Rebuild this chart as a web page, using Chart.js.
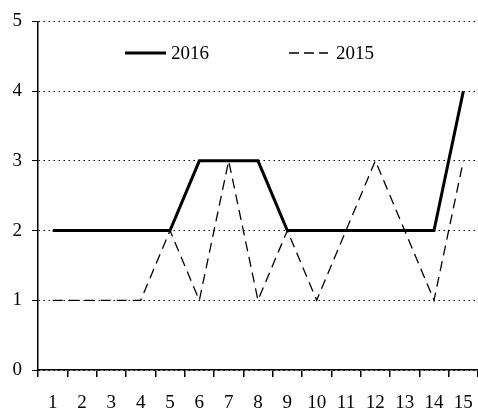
<!DOCTYPE html>
<html>
<head>
<meta charset="utf-8">
<script src="https://cdn.jsdelivr.net/npm/chart.js@4.4.1/dist/chart.umd.min.js"></script>
<style>
  html, body { margin: 0; padding: 0; background: #fff; }
  #wrap { width: 478px; height: 412px; }
</style>
</head>
<body>
<div id="wrap"><canvas id="myChart" width="478" height="412"></canvas></div>
<script>
const categories = ['1', '2', '3', '4', '5', '6', '7', '8', '9', '10', '11', '12', '13', '14', '15'];
const values2016 = [2, 2, 2, 2, 2, 3, 3, 3, 2, 2, 2, 2, 2, 2, 4];
const values2015 = [1, 1, 1, 1, 2, 1, 3, 1, 2, 1, 2, 3, 2, 1, 3];
const yTicks = [0, 1, 2, 3, 4, 5];

const fontFamily = '"Liberation Serif", "DejaVu Serif", serif';

// legend drawn inside the plot like the original
const innerLegend = {
    id: 'innerLegend',
    afterDraw(chart) {
        const ctx = chart.ctx;
        ctx.save();
        ctx.strokeStyle = '#000';
        ctx.fillStyle = '#000';
        ctx.font = '19px ' + fontFamily;
        ctx.textBaseline = 'middle';

        ctx.lineWidth = 3;
        ctx.setLineDash([]);
        ctx.beginPath();
        ctx.moveTo(125, 53);
        ctx.lineTo(166, 53);
        ctx.stroke();
        ctx.fillText('2016', 171, 54);

        ctx.lineWidth = 1.3;
        ctx.setLineDash([10, 5]);
        ctx.beginPath();
        ctx.moveTo(289, 53);
        ctx.lineTo(328, 53);
        ctx.stroke();
        ctx.fillText('2015', 336, 54);
        ctx.restore();
    }
};

var ctx = document.getElementById('myChart').getContext('2d');
var myChart = new Chart(ctx, {
    type: 'line',
    data: {
        labels: categories,
        datasets: [{
            label: '2016',
            data: values2016,
            borderColor: '#000',
            borderWidth: 3,
            pointRadius: 0,
            tension: 0,
            fill: false
        }, {
            label: '2015',
            data: values2015,
            borderColor: '#000',
            borderWidth: 1.3,
            borderDash: [10, 6],
            pointRadius: 0,
            tension: 0,
            fill: false
        }]
    },
    options: {
        responsive: false,
        animation: false,
        layout: { padding: { top: 20, right: 0, left: 0, bottom: 0 } },
        plugins: {
            legend: { display: false },
            tooltip: { enabled: false }
        },
        scales: {
            x: {
                offset: true,
                grid: {
                    offset: true,
                    drawOnChartArea: false,
                    drawTicks: true,
                    tickLength: 7,
                    color: '#000',
                    lineWidth: 1.5
                },
                border: { display: true, color: '#000', width: 1.5 },
                ticks: {
                    color: '#000',
                    font: { family: fontFamily, size: 19 },
                    padding: 15,
                    maxRotation: 0,
                    autoSkip: false
                },
                afterFit(scale) {
                    scale.height = 42;
                    scale.paddingLeft = 0;
                    scale.paddingRight = 0;
                }
            },
            y: {
                min: 0,
                max: 5,
                afterBuildTicks(scale) {
                    scale.ticks = yTicks.map(v => ({ value: v }));
                },
                grid: {
                    color: '#000',
                    lineWidth: 1,
                    tickBorderDash: [],
                    tickLength: 6,
                    drawTicks: true
                },
                border: { display: true, color: '#000', width: 1.5, dash: [1.5, 3.5] },
                ticks: {
                    color: '#000',
                    font: { family: fontFamily, size: 19 },
                    padding: 10
                },
                afterFit(scale) { scale.width = 38; }
            }
        }
    },
    plugins: [innerLegend]
});
</script>
</body>
</html>
